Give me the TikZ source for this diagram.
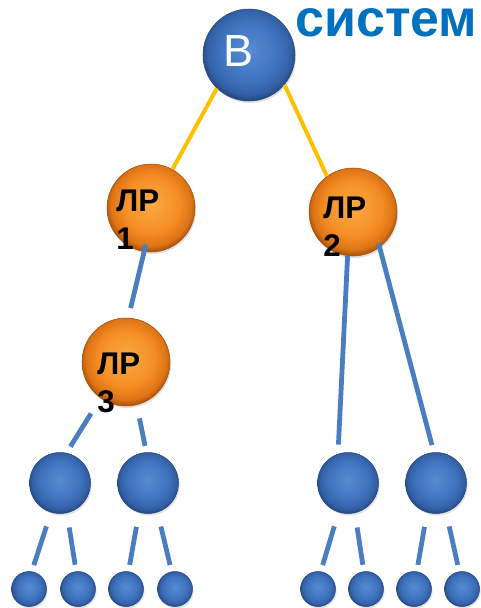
\documentclass[tikz,border=0pt]{standalone}
\usepackage{fontspec}
\setmainfont{Liberation Sans}
\usetikzlibrary{shadows}

\definecolor{blueA}{RGB}{86,140,212}
\definecolor{blueB}{RGB}{64,115,190}
\definecolor{blueC}{RGB}{50,96,166}
\definecolor{blueD}{RGB}{38,72,128}
\definecolor{orangeA}{RGB}{252,170,70}
\definecolor{orangeB}{RGB}{244,142,36}
\definecolor{orangeC}{RGB}{222,116,22}
\definecolor{orangeD}{RGB}{170,84,14}
\definecolor{linkblue}{RGB}{74,126,193}
\definecolor{linkgold}{RGB}{255,192,0}
\definecolor{titleblue}{RGB}{0,112,192}

\pgfdeclareradialshading{blueball}{\pgfpoint{0bp}{3bp}}{color(0bp)=(blueA); color(16bp)=(blueB); color(23bp)=(blueC); color(26bp)=(blueD); color(50bp)=(blueD)}
\pgfdeclareradialshading{orangeball}{\pgfpoint{0bp}{3bp}}{color(0bp)=(orangeA); color(16bp)=(orangeB); color(23bp)=(orangeC); color(26bp)=(orangeD); color(50bp)=(orangeD)}

\begin{document}
\begin{tikzpicture}[x=0.75pt,y=0.75pt,yscale=-1,xscale=1,
	ball/.style={circle, inner sep=0pt, draw=#1D, line width=0.4pt, shading=#1ball,
		drop shadow={shadow xshift=0.8pt, shadow yshift=-1.5pt, opacity=0.25}},
	rootball/.style={ball=blue, minimum size=69pt},
	lrball/.style={ball=orange, minimum size=66pt},
	midball/.style={ball=blue, minimum size=45.75pt},
	leafball/.style={ball=blue, minimum size=26.25pt},
	goldlink/.style={draw=linkgold, line width=3pt},
	bluelink/.style={draw=linkblue, line width=3.6pt},
	leaflink/.style={bluelink, shorten <=11pt, shorten >=5pt},
	lrtext/.style={inner sep=0pt, align=left, font=\fontsize{23.5}{28.5}\selectfont\bfseries},
	]
\useasboundingbox (0,0) rectangle (481,608);

%Shape: Circle (root)
\node [rootball] (root) at (249,55) {};
%Shape: Circle (ЛР)
\node [lrball] (lr1) at (151,208) {};
\node [lrball] (lr2) at (353,212) {};
\node [lrball] (lr3) at (126,362) {};
%Shape: Circle (level 4)
\node [midball] (m1) at (60,483) {};
\node [midball] (m2) at (148,483) {};
\node [midball] (m3) at (348,483) {};
\node [midball] (m4) at (436,483) {};
%Shape: Circle (leaves)
\node [leafball] (f1) at (29,589) {};
\node [leafball] (f2) at (78,589) {};
\node [leafball] (f3) at (126,589) {};
\node [leafball] (f4) at (175,589) {};
\node [leafball] (f5) at (318,589) {};
\node [leafball] (f6) at (366,589) {};
\node [leafball] (f7) at (414,589) {};
\node [leafball] (f8) at (462,589) {};

%Straight Lines
\draw [goldlink] (root.-134) -- (lr1.61) ;
\draw [goldlink] (root.-40) -- (lr2.126) ;
%Straight Lines
\draw [bluelink, shorten <=-5.6pt, shorten >=7.5pt] (lr1.-99) -- (lr3.87) ;
\draw [bluelink, shorten >=7pt] (lr2.-97) -- (m3.109) ;
\draw [bluelink, shorten <=-3pt, shorten >=5.6pt] (lr2.-53) -- (m4.94) ;
\draw [bluelink, shorten <=13.5pt, shorten >=5.6pt] (lr3.-125) -- (m1.78) ;
\draw [bluelink, shorten <=10.3pt, shorten >=4.9pt] (lr3.-76) -- (m2.93) ;
%Straight Lines
\draw [leaflink] (m1.-107) -- (f1.81) ;
\draw [leaflink] (m1.-77) -- (f2.96) ;
\draw [leaflink] (m2.-107) -- (f3.82) ;
\draw [leaflink] (m2.-72) -- (f4.101) ;
\draw [leaflink] (m3.-108) -- (f5.81) ;
\draw [leaflink] (m3.-77) -- (f6.97) ;
\draw [leaflink] (m4.-107) -- (f7.81) ;
\draw [leaflink] (m4.-71) -- (f8.99) ;

% Text Node
\node [inner sep=0pt, text=white, font=\fontsize{33.75}{40}\selectfont] (rootlabel) at (239,51) {В};
% Text Node
\node [anchor=base west, inner sep=0pt, text=titleblue, font=\fontsize{39}{44}\selectfont\bfseries] (title) at (295,36) {систем};
% Text Node
\node [lrtext, anchor=north west] (lr1label) at (116,190) {ЛР\\1};
\node [lrtext, anchor=north west] (lr2label) at (323,197) {ЛР\\2};
\node [lrtext, anchor=north west] (lr3label) at (97,353) {ЛР\\3};

\end{tikzpicture}
\end{document}
